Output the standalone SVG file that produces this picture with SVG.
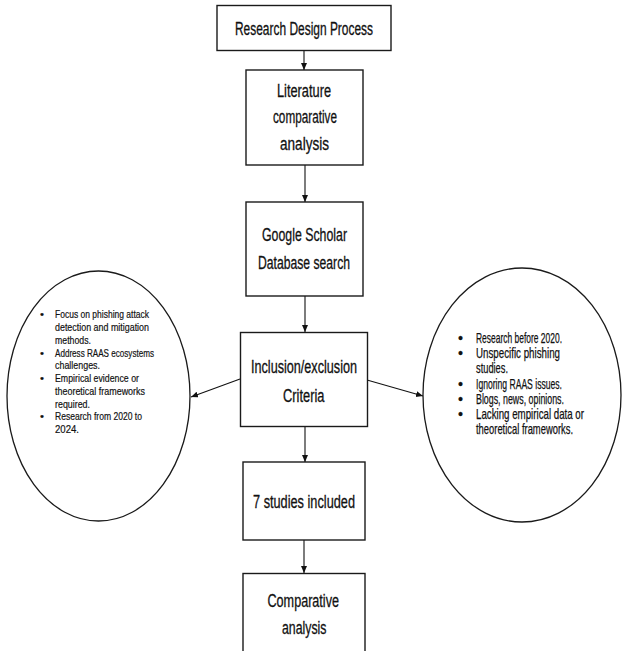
<svg xmlns="http://www.w3.org/2000/svg" width="622" height="651" viewBox="0 0 622 651">
<style>
.box{fill:#fff;stroke:#1a1a1a;stroke-width:1.4}
.ell{fill:#fff;stroke:#1a1a1a;stroke-width:1.3}
.t{font-family:"Liberation Sans Narrow","Liberation Sans","DejaVu Sans Condensed",sans-serif;fill:#111;stroke:#111;stroke-width:0.3}
.m{font-size:17.5px}
.l{font-size:11.3px;stroke-width:0.2}
.r{font-size:14.3px;stroke-width:0.25}
.c{stroke:#111;stroke-width:1.1;fill:none;marker-end:url(#ah)}
</style>
<defs>
<marker id="ah" markerWidth="8" markerHeight="8" refX="7" refY="3" orient="auto" markerUnits="userSpaceOnUse">
<path d="M0,0 L7,3 L0,6 Z" fill="#111"/>
</marker>
</defs>
<rect width="622" height="651" fill="#fff"/>
<g id="connectors">
<line class="c" x1="304" y1="51" x2="304" y2="70"/>
<line class="c" x1="305" y1="165" x2="305" y2="202"/>
<line class="c" x1="305" y1="296" x2="305" y2="332"/>
<line class="c" x1="305" y1="427" x2="305" y2="462"/>
<line class="c" x1="304" y1="540" x2="304" y2="573"/>
<line class="c" x1="240" y1="379" x2="191" y2="397"/>
<line class="c" x1="367" y1="380" x2="423" y2="396"/>
</g>
<g id="n1">
<rect class="box" x="217" y="5.5" width="174" height="45"/>
<text class="t m" x="235" y="35" textLength="138" lengthAdjust="spacingAndGlyphs">Research Design Process</text>
</g>
<g id="n2">
<rect class="box" x="246" y="70" width="117" height="95"/>
<text class="t m" x="277" y="97" textLength="54" lengthAdjust="spacingAndGlyphs">Literature</text>
<text class="t m" x="273" y="123" textLength="64" lengthAdjust="spacingAndGlyphs">comparative</text>
<text class="t m" x="280" y="150" textLength="49" lengthAdjust="spacingAndGlyphs">analysis</text>
</g>
<g id="n3">
<rect class="box" x="246" y="202" width="117" height="94"/>
<text class="t m" x="262" y="241" textLength="85" lengthAdjust="spacingAndGlyphs">Google Scholar</text>
<text class="t m" x="258" y="269" textLength="92" lengthAdjust="spacingAndGlyphs">Database search</text>
</g>
<g id="n4">
<rect class="box" x="240.5" y="332.5" width="127" height="94"/>
<text class="t m" x="251" y="373" textLength="106" lengthAdjust="spacingAndGlyphs">Inclusion/exclusion</text>
<text class="t m" x="283" y="401.5" textLength="41.5" lengthAdjust="spacingAndGlyphs">Criteria</text>
</g>
<g id="n5">
<rect class="box" x="243" y="462" width="122" height="78"/>
<text class="t m" x="253" y="508" textLength="102" lengthAdjust="spacingAndGlyphs">7 studies included</text>
</g>
<g id="n6">
<rect class="box" x="243" y="573.5" width="122" height="90"/>
<text class="t m" x="267.5" y="606.5" textLength="71.5" lengthAdjust="spacingAndGlyphs">Comparative</text>
<text class="t m" x="282" y="634" textLength="44.5" lengthAdjust="spacingAndGlyphs">analysis</text>
</g>
<g id="inclusion">
<ellipse class="ell" cx="98.5" cy="396" rx="91.5" ry="125"/>
<g class="t l">
<text x="40" y="318">•</text>
<text x="55" y="318" textLength="94" lengthAdjust="spacingAndGlyphs">Focus on phishing attack</text>
<text x="55" y="330.5" textLength="94" lengthAdjust="spacingAndGlyphs">detection and mitigation</text>
<text x="55" y="343.5" textLength="36" lengthAdjust="spacingAndGlyphs">methods.</text>
<text x="40" y="356.5">•</text>
<text x="55" y="356.5" textLength="99" lengthAdjust="spacingAndGlyphs">Address RAAS ecosystems</text>
<text x="55" y="369" textLength="45" lengthAdjust="spacingAndGlyphs">challenges.</text>
<text x="40" y="382">•</text>
<text x="55" y="382" textLength="84" lengthAdjust="spacingAndGlyphs">Empirical evidence or</text>
<text x="55" y="394.5" textLength="90" lengthAdjust="spacingAndGlyphs">theoretical frameworks</text>
<text x="55" y="407.5" textLength="35" lengthAdjust="spacingAndGlyphs">required.</text>
<text x="40" y="420">•</text>
<text x="55" y="420" textLength="87" lengthAdjust="spacingAndGlyphs">Research from 2020 to</text>
<text x="55" y="433" textLength="24" lengthAdjust="spacingAndGlyphs">2024.</text>
</g>
</g>
<g id="exclusion">
<ellipse class="ell" cx="522" cy="395" rx="99" ry="127"/>
<g class="t r">
<text x="458" y="342.5">•</text>
<text x="476" y="342.5" textLength="86" lengthAdjust="spacingAndGlyphs">Research before 2020.</text>
<text x="458" y="357.5">•</text>
<text x="476" y="357.5" textLength="84" lengthAdjust="spacingAndGlyphs">Unspecific phishing</text>
<text x="476" y="373" textLength="32" lengthAdjust="spacingAndGlyphs">studies.</text>
<text x="458" y="388.5">•</text>
<text x="476" y="388.5" textLength="86" lengthAdjust="spacingAndGlyphs">Ignoring RAAS issues.</text>
<text x="458" y="403.5">•</text>
<text x="476" y="403.5" textLength="88" lengthAdjust="spacingAndGlyphs">Blogs, news, opinions.</text>
<text x="458" y="418.5">•</text>
<text x="476" y="418.5" textLength="108" lengthAdjust="spacingAndGlyphs">Lacking empirical data or</text>
<text x="476" y="433.5" textLength="97" lengthAdjust="spacingAndGlyphs">theoretical frameworks.</text>
</g>
</g>
</svg>
